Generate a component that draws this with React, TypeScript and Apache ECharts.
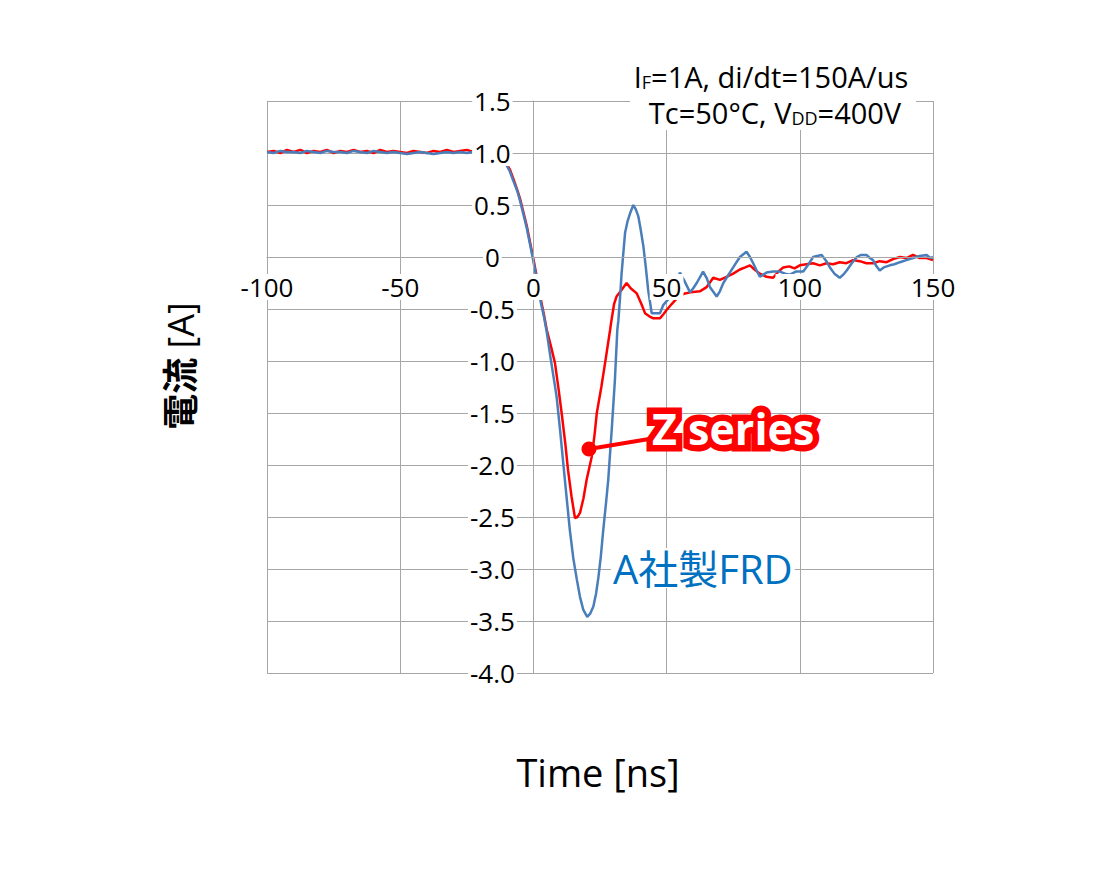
import { useEffect, useRef } from 'react';
import * as echarts from 'echarts';

const FONT = '"Open Sans", "Noto Sans CJK JP", sans-serif';

// Z series (red)
const zTime = [
  -100, -97.5, -95, -92.5, -90, -87.5, -85, -82.5, -80, -77.5, -75, -72.5, -70, -67.5, -65, -62.5,
  -60, -57.5, -55, -52.5, -50, -47.5, -45, -42.5, -40, -37.5, -35, -32.5, -30, -27.5, -25, -22.5,
  -20, -17.5, -15, -12.5, -10, -8.8, -7.5, -6, -5, -2.5, 0, 1.5, 2.8, 4, 5, 6.5, 8.1, 9.5, 10.6,
  12, 13, 14.3, 15.6, 16.5, 17.5, 18.8, 20, 21.9, 23, 23.8, 25.5, 26.9, 28.8, 29.3, 30.3, 31.2,
  33, 35, 36.5, 38.8, 40.5, 41.9, 43.5, 45, 47.5, 48.8, 50, 52, 54.5, 56.9, 59, 62.5, 65, 67.5,
  70, 72.5, 75, 77.5, 79.5, 81.3, 83, 85, 87.5, 90, 92, 93.8, 96, 98, 100, 102.5, 105, 107.5,
  110, 112.5, 115, 117.5, 120, 122.5, 125, 127.5, 130, 132.6, 135, 137.6, 140, 142.5, 145,
  147.6, 150,
];
const zCurrent = [
  1.01, 1.02, 1.0, 1.03, 1.01, 1.03, 1.0, 1.02, 1.01, 1.03, 1.0, 1.02, 1.01, 1.03, 1.01, 1.02,
  1.0, 1.03, 1.01, 1.02, 1.01, 1.0, 1.02, 1.01, 1.0, 1.02, 1.01, 1.03, 1.01, 1.02, 1.03, 1.01,
  1.0, 0.98, 0.96, 0.93, 0.89, 0.84, 0.75, 0.64, 0.56, 0.3, -0.02, -0.22, -0.41, -0.56, -0.7,
  -0.85, -1.02, -1.28, -1.5, -1.8, -2.05, -2.3, -2.51, -2.5, -2.46, -2.32, -2.14, -1.92, -1.7,
  -1.5, -1.25, -1.02, -0.7, -0.61, -0.45, -0.38, -0.32, -0.25, -0.3, -0.35, -0.45, -0.54, -0.57,
  -0.59, -0.59, -0.55, -0.51, -0.45, -0.38, -0.35, -0.34, -0.33, -0.29, -0.2, -0.22, -0.19,
  -0.16, -0.12, -0.1, -0.08, -0.12, -0.16, -0.19, -0.2, -0.14, -0.1, -0.09, -0.11, -0.08, -0.07,
  -0.06, -0.08, -0.06, -0.07, -0.05, -0.06, -0.03, -0.04, -0.06, -0.06, -0.04, -0.05, -0.02, 0.0,
  -0.01, 0.02, -0.01, -0.01, -0.03,
];

// A社製FRD (blue)
const aTime = [
  -100, -97.5, -95, -92.5, -90, -87.5, -85, -82.5, -80, -77.5, -75, -72.5, -70, -67.5, -65, -62.5,
  -60, -57.5, -55, -52.5, -50, -47.5, -45, -42.5, -40, -37.5, -35, -32.5, -30, -27.5, -25, -22.5,
  -20, -17.5, -15, -12.5, -10, -8.8, -7.5, -6, -5, -2.5, 0, 1.5, 2.8, 4, 5, 6.5, 8.7, 10, 11.2,
  12.5, 13.7, 15, 16.3, 17.5, 18.7, 20.2, 21.3, 22.5, 23.5, 24.4, 25.3, 26.2, 27.2, 28.1, 29.4,
  30.6, 31.5, 31.9, 32.5, 33.1, 34.4, 35.3, 36.3, 37.5, 38.4, 39.4, 40.3, 41.3, 42.2, 43.1, 44.4,
  45.6, 47.5, 48.8, 50.5, 53, 55, 56.5, 58.8, 60, 61.3, 63.7, 65, 66.3, 68.8, 70, 71.3, 73, 75,
  77.5, 80, 81.3, 82.5, 83.8, 85, 87.5, 90, 92.5, 94.5, 96.3, 98.5, 101.3, 103, 105, 106.5,
  108.2, 110, 111.3, 113, 115, 116.3, 117.6, 119.5, 121.4, 123, 125, 126.3, 127.5, 128.8, 130,
  131.5, 133.8, 135.5, 137.6, 140, 142.5, 145, 147.6, 149, 150,
];
const aCurrent = [
  1.01, 1.0, 1.02, 1.01, 1.01, 1.0, 1.02, 1.01, 1.0, 1.02, 1.01, 1.01, 1.0, 1.02, 1.01, 1.0,
  1.02, 1.01, 1.0, 1.01, 1.0, 0.99, 1.0, 1.01, 1.0, 0.99, 1.0, 1.01, 1.0, 1.01, 1.0, 1.01,
  0.99, 0.97, 0.95, 0.92, 0.88, 0.82, 0.73, 0.63, 0.54, 0.28, -0.04, -0.25, -0.44, -0.58, -0.72,
  -0.98, -1.34, -1.66, -1.98, -2.32, -2.63, -2.9, -3.1, -3.27, -3.39, -3.46, -3.43, -3.36, -3.24,
  -3.08, -2.88, -2.63, -2.38, -2.14, -1.66, -1.18, -0.7, -0.61, -0.4, -0.16, 0.23, 0.34, 0.42,
  0.5, 0.46, 0.39, 0.26, 0.1, -0.1, -0.32, -0.54, -0.54, -0.54, -0.46, -0.41, -0.28, -0.15,
  -0.22, -0.34, -0.3, -0.25, -0.14, -0.2, -0.29, -0.38, -0.33, -0.25, -0.18, -0.1, 0.0, 0.05,
  0.0, -0.06, -0.13, -0.19, -0.15, -0.14, -0.14, -0.16, -0.17, -0.14, -0.14, -0.08, 0.0, 0.01,
  0.02, -0.04, -0.1, -0.16, -0.2, -0.17, -0.13, -0.06, 0.0, 0.02, 0.02, -0.01, -0.03, -0.09,
  -0.13, -0.1, -0.08, -0.07, -0.05, -0.03, -0.01, 0.01, 0.02, -0.01, 0.0,
];

const xRange = { min: -100, max: 150, interval: 50 };
const yRange = { min: -4, max: 1.5, interval: 0.5 };

const RED = '#FF0000';
const BLUE = '#4A7EBB';
const GRID_COLOR = '#A6A6A6';

const GRID = { left: 267, top: 101, width: 666, height: 572 };

function pairs(xs: number[], ys: number[]) {
  return xs.map((x, i) => [x, ys[i]]);
}

export default function App() {
  const ref = useRef<HTMLDivElement>(null);

  useEffect(() => {
    if (!ref.current) return;
    const chart = echarts.init(ref.current, null, { renderer: 'svg' });

    const labelBase = {
      color: '#000',
      fontFamily: FONT,
      fontSize: 26,
      backgroundColor: '#fff',
      padding: [0, 2],
    };

    // move the label axes onto the zero lines (Excel-style crossing axes)
    const xOffset = -(GRID.height * (0 - yRange.min)) / (yRange.max - yRange.min);
    const yOffset = -(GRID.width * (0 - xRange.min)) / (xRange.max - xRange.min);

    chart.setOption({
      animation: false,
      backgroundColor: '#fff',
      grid: GRID,
      xAxis: [
        {
          // gridlines only
          type: 'value', ...xRange, z: 0,
          axisLine: { show: false, onZero: false },
          axisTick: { show: false },
          axisLabel: { show: false },
          splitLine: { show: true, lineStyle: { color: GRID_COLOR, width: 1 } },
        },
        {
          // axis line + labels, drawn above curves
          type: 'value', ...xRange, z: 5, position: 'bottom', offset: xOffset,
          axisLine: { show: true, onZero: false, lineStyle: { color: GRID_COLOR, width: 1 } },
          axisTick: { show: false },
          splitLine: { show: false },
          axisLabel: { ...labelBase, margin: 17, formatter: (v: number) => String(v) },
        },
      ],
      yAxis: [
        {
          type: 'value', ...yRange, z: 0,
          axisLine: { show: false, onZero: false },
          axisTick: { show: false },
          axisLabel: { show: false },
          splitLine: { show: true, lineStyle: { color: GRID_COLOR, width: 1 } },
        },
        {
          type: 'value', ...yRange, z: 5, position: 'left', offset: yOffset,
          axisLine: { show: true, onZero: false, lineStyle: { color: GRID_COLOR, width: 1 } },
          axisTick: { show: false },
          splitLine: { show: false },
          axisLabel: {
            ...labelBase,
            align: 'center',
            margin: 41,
            formatter: (v: number) => (v === 0 ? '0' : v.toFixed(1)),
          },
        },
      ],
      series: [
        {
          name: 'Z series',
          type: 'line',
          xAxisIndex: 0,
          yAxisIndex: 0,
          data: pairs(zTime, zCurrent),
          showSymbol: false,
          lineStyle: { color: RED, width: 2.5 },
          itemStyle: { color: RED },
        },
        {
          name: 'A社製FRD',
          type: 'line',
          xAxisIndex: 0,
          yAxisIndex: 0,
          data: pairs(aTime, aCurrent),
          showSymbol: false,
          lineStyle: { color: BLUE, width: 2.5 },
          itemStyle: { color: BLUE },
        },
      ],
      graphic: [
        // test condition box
        { type: 'rect', z: 10, shape: { x: 630, y: 56, width: 286, height: 74 }, style: { fill: '#fff' } },
        {
          type: 'text', z: 11, x: 771, y: 76,
          style: {
            text: '{n|I}{s|F}{n|=1A, di/dt=150A/us}',
            align: 'center', verticalAlign: 'middle',
            rich: {
              n: { fontFamily: FONT, fontSize: 29, fill: '#000' },
              s: { fontFamily: FONT, fontSize: 18, fill: '#000', verticalAlign: 'bottom', padding: [9, 0, 0, 0] },
            },
          },
        },
        {
          type: 'text', z: 11, x: 775, y: 112,
          style: {
            text: '{n|Tc=50°C, V}{s|DD}{n|=400V}',
            align: 'center', verticalAlign: 'middle',
            rich: {
              n: { fontFamily: FONT, fontSize: 29, fill: '#000' },
              s: { fontFamily: FONT, fontSize: 18, fill: '#000', verticalAlign: 'bottom', padding: [9, 0, 0, 0] },
            },
          },
        },
        // y axis title
        {
          type: 'text', z: 11, x: 180, y: 366, rotation: Math.PI / 2,
          style: {
            text: '{b|電流}{n| [A]}',
            align: 'center', verticalAlign: 'middle',
            rich: {
              b: { fontFamily: FONT, fontSize: 36, fontWeight: 'bold', fill: '#000' },
              n: { fontFamily: FONT, fontSize: 36, fill: '#000' },
            },
          },
        },
        // x axis title
        {
          type: 'text', z: 11, x: 598, y: 772,
          style: { text: 'Time [ns]', fontFamily: FONT, fontSize: 38, fill: '#000', align: 'center', verticalAlign: 'middle' },
        },
        // Z series annotation
        { type: 'line', z: 11, shape: { x1: 589, y1: 449, x2: 655, y2: 438 }, style: { stroke: RED, lineWidth: 4 } },
        { type: 'circle', z: 12, shape: { cx: 589, cy: 449, r: 7.5 }, style: { fill: RED } },
        {
          type: 'text', z: 12, x: 652, y: 428,
          style: {
            text: 'Z series', fontFamily: FONT, fontSize: 43, fontWeight: 'bold',
            fill: RED, stroke: RED, lineWidth: 13, lineJoin: 'round',
            align: 'left', verticalAlign: 'middle',
          },
        },
        {
          type: 'text', z: 13, x: 652, y: 428,
          style: {
            text: 'Z series', fontFamily: FONT, fontSize: 43, fontWeight: 'bold',
            fill: '#fff', align: 'left', verticalAlign: 'middle',
          },
        },
        // A社製FRD annotation
        {
          type: 'text', z: 11, x: 611, y: 568,
          style: {
            text: 'A社製FRD', fontFamily: FONT, fontSize: 40, fill: '#0070C0',
            align: 'left', verticalAlign: 'middle', backgroundColor: '#fff', padding: [0, 2],
          },
        },
      ],
    });

    return () => chart.dispose();
  }, []);

  return (
    <div
      ref={ref}
      style={{ position: 'absolute', left: 0, top: 0, width: 1117, height: 883 }}
    />
  );
}
